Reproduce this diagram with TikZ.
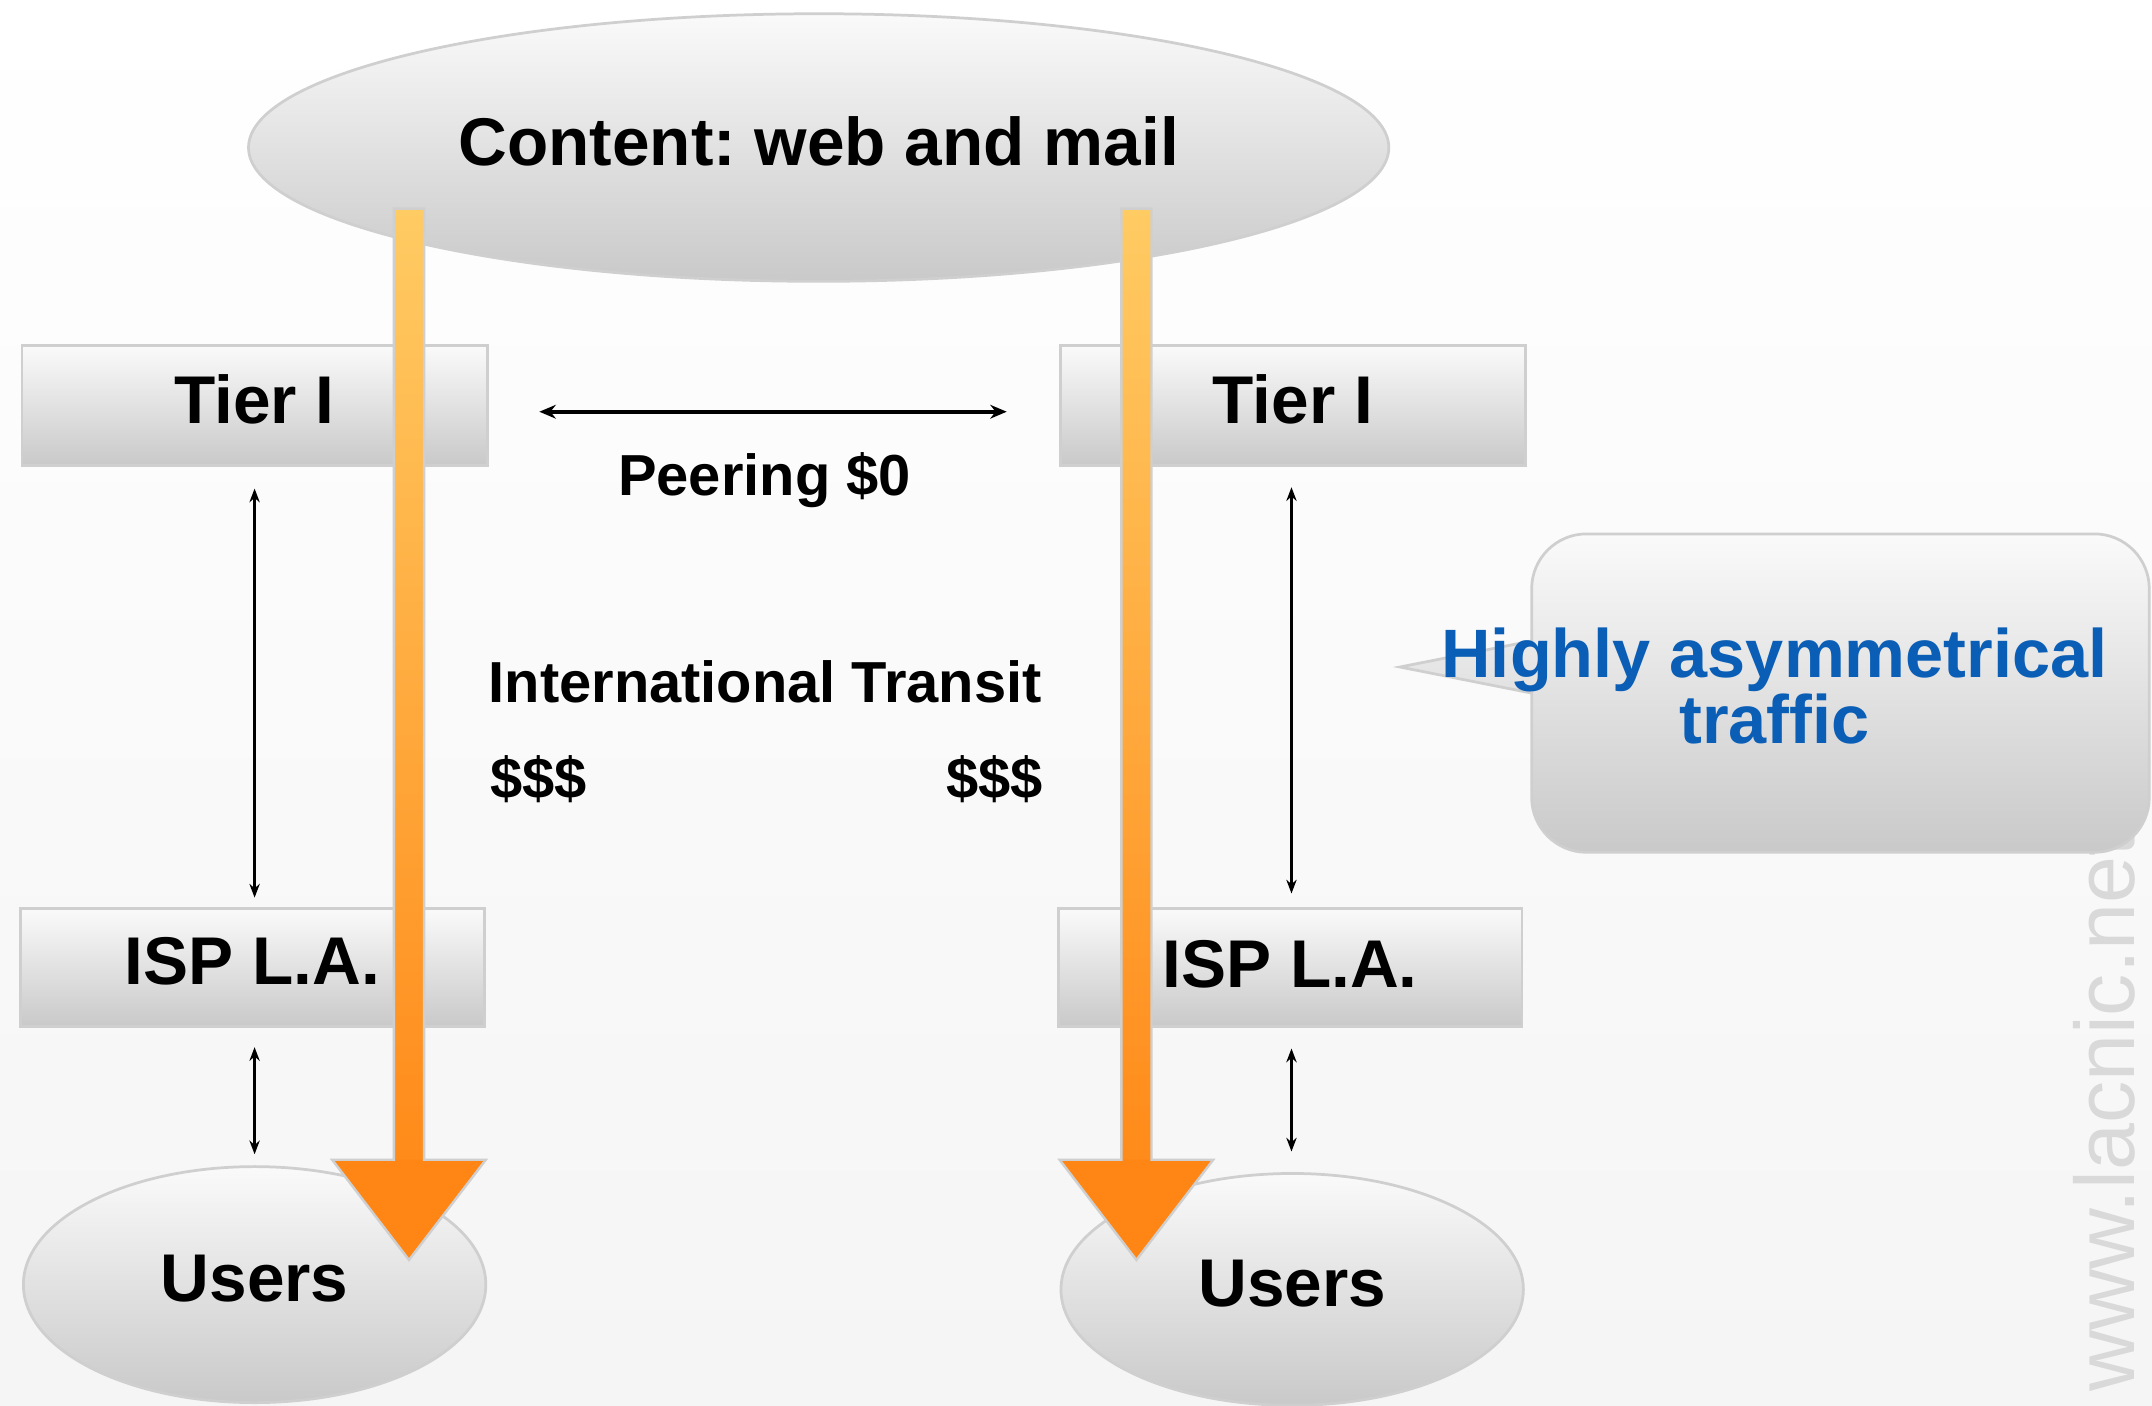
\documentclass[tikz,border=0pt]{standalone}
\usepackage{fontspec}
\setmainfont{Liberation Sans}
\usetikzlibrary{shapes.geometric,arrows.meta,calc}
\definecolor{boxtop}{HTML}{FAFAFA}
\definecolor{boxbot}{HTML}{C9C9C9}
\definecolor{boxline}{HTML}{CFCFCF}
\definecolor{orangetop}{HTML}{FFCB63}
\definecolor{orangebot}{HTML}{FF8412}
\definecolor{orangehead}{HTML}{FF8515}
\definecolor{callblue}{HTML}{0A5EB6}
\definecolor{wmark}{HTML}{D9D9D9}
\begin{document}
\frenchspacing
\begin{tikzpicture}[x=0.02cm,y=-0.02cm,
  gbox/.style={draw=boxline, line width=0.04cm, top color=boxtop, bottom color=boxbot,
    font=\bfseries\fontsize{28}{30}\selectfont, text depth=0.18cm, inner sep=0pt},
  rectbox/.style={gbox, rectangle, minimum width=6.78cm, minimum height=1.74cm},
  ellbox/.style={gbox, ellipse},
  lbl/.style={font=\bfseries\fontsize{24}{26}\selectfont, inner sep=0pt},
  dblv/.style={{Stealth[length=0.2cm,width=0.15cm]}-{Stealth[length=0.2cm,width=0.15cm]}, line width=0.04cm},
  dblh/.style={{Stealth[length=0.24cm,width=0.2cm]}-{Stealth[length=0.24cm,width=0.2cm]}, line width=0.06cm},
  blockfill/.style={top color=orangetop, bottom color=orangebot},
  blockline/.style={draw=boxline, line width=0.035cm, line join=miter},
]
\useasboundingbox (0,0) rectangle (1568,1024);
\clip (0,0) rectangle (1568,1024);
\fill[top color=white, bottom color=black!4] (0,0) rectangle (1568,1024);

% watermark
\node[rotate=90, anchor=base west, inner sep=0pt, text=wmark,
  font=\fontsize{35}{35}\selectfont] (wm) at (1555,1014) {www.lacnic.net};

% content ellipse
\node[ellbox, minimum width=16.62cm, minimum height=3.9cm] (content) at (596.5,107.5)
  {Content: web and mail};

% tier boxes
\node[rectbox] (tierL) at (185.5,295.5) {Tier I};
\node[rectbox] (tierR) at (942,295.5) {Tier I};

% ISP boxes
\node[rectbox, minimum width=6.76cm, minimum height=1.72cm] (ispL) at (184,705) {ISP L.A.};
\node[rectbox, minimum width=6.76cm, minimum height=1.72cm, text depth=0.12cm] (ispR) at (940,705) {ISP L.A.};

% users
\node[ellbox, minimum width=6.74cm, minimum height=3.44cm] (usersL) at (185.5,936) {Users};
\node[ellbox, minimum width=6.74cm, minimum height=3.38cm] (usersR) at (941.5,939.5) {Users};

% black connectors
\draw[dblv, shorten <=0.32cm, shorten >=0.14cm] (tierL.south) -- (tierL.south |- ispL.north);
\draw[dblv, shorten <=0.28cm, shorten >=0.16cm] (tierL.south |- ispL.south) -- (tierL.south |- usersL.north);
\draw[dblv, shorten <=0.32cm, shorten >=0.2cm] (941,339) coordinate (tRs) -- (tRs |- ispR.north);
\draw[dblv, shorten <=0.3cm, shorten >=0.3cm] (tRs |- ispR.south) -- (tRs |- usersR.north);
\draw[dblh] ($(tierL.east)+(37,4.5)$) -- ($(tierR.west)+(-38,4.5)$);

% labels
\node[lbl, anchor=base] (peer) at (557,361) {Peering \$0};
\node[lbl, anchor=base] (transit) at (557.5,511.5) {International Transit};
\node[lbl, anchor=base west] (dolL) at (357,581.5) {\$\$\$};
\node[lbl, anchor=base east] (dolR) at (760,581.5) {\$\$\$};

% orange block arrows
\foreach \cx/\nm in {298/L, 828/R}{
  \path[blockfill] (\cx-11,152) -- (\cx+11,152) -- (\cx+11,845) -- (\cx+56,845)
     -- (\cx,918) -- (\cx-56,845) -- (\cx-11,845) -- cycle;
  \fill[orangehead] (\cx-56,845) -- (\cx+56,845) -- (\cx,918) -- cycle;
  \path[blockline] (\cx-11,152) -- (\cx+11,152) -- (\cx+11,845) -- (\cx+56,845)
     -- (\cx,918) -- (\cx-56,845) -- (\cx-11,845) -- cycle;
}

% callout
\path[draw=boxline, line width=0.04cm, top color=boxtop, bottom color=boxbot, line join=miter]
  (1116,505) -- (1116,581) arc[start angle=180, end angle=90, radius=40]
  -- (1526,621) arc[start angle=90, end angle=0, radius=40]
  -- (1566,429) arc[start angle=0, end angle=-90, radius=40]
  -- (1156,389) arc[start angle=-90, end angle=-180, radius=40]
  -- (1116,467) -- (1020,486) -- cycle;
\node[anchor=north, align=center, inner sep=0pt, text=callblue,
  font=\bfseries\fontsize{28.4}{27.3}\selectfont] (calltext) at (1293,457)
  {Highly asymmetrical\\traffic};
\end{tikzpicture}
\end{document}
